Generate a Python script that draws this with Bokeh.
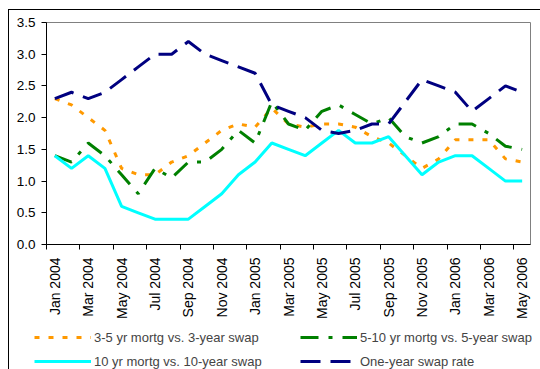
import math

from bokeh.plotting import figure
from bokeh.layouts import column
from bokeh.models import FixedTicker, Legend, LegendItem, Range1d, PrintfTickFormatter
from bokeh.embed import file_html
from bokeh.resources import INLINE

# Monthly categories, Jan 2004 .. May 2006
months = [
    "Jan 2004", "Feb 2004", "Mar 2004", "Apr 2004", "May 2004", "Jun 2004",
    "Jul 2004", "Aug 2004", "Sep 2004", "Oct 2004", "Nov 2004", "Dec 2004",
    "Jan 2005", "Feb 2005", "Mar 2005", "Apr 2005", "May 2005", "Jun 2005",
    "Jul 2005", "Aug 2005", "Sep 2005", "Oct 2005", "Nov 2005", "Dec 2005",
    "Jan 2006", "Feb 2006", "Mar 2006", "Apr 2006", "May 2006",
]

# Spreads and swap rate (percent)
mortg_3_5_vs_3y = [2.3, 2.2, 2.0, 1.8, 1.2, 1.1, 1.1, 1.3, 1.4, 1.6, 1.8, 1.9,
                   1.85, 2.15, 1.9, 1.85, 1.9, 1.9, 1.85, 1.7, 1.6, 1.4, 1.2, 1.35,
                   1.65, 1.65, 1.65, 1.35, 1.3]
mortg_5_10_vs_5y = [1.4, 1.3, 1.6, 1.4, 1.1, 0.8, 1.2, 1.05, 1.3, 1.3, 1.5, 1.8,
                    1.6, 2.25, 1.9, 1.8, 2.1, 2.2, 2.05, 1.9, 2.0, 1.7, 1.6, 1.7,
                    1.9, 1.9, 1.75, 1.55, 1.5]
mortg_10_vs_10y = [1.4, 1.2, 1.4, 1.2, 0.6, 0.5, 0.4, 0.4, 0.4, 0.6, 0.8, 1.1,
                   1.3, 1.6, 1.5, 1.4, 1.6, 1.8, 1.6, 1.6, 1.7, 1.4, 1.1, 1.3,
                   1.4, 1.4, 1.2, 1.0, 1.0]
one_year_swap = [2.3, 2.4, 2.3, 2.4, 2.6, 2.8, 3.0, 3.0, 3.2, 3.0, 2.9, 2.8,
                 2.7, 2.2, 2.1, 2.0, 1.8, 1.75, 1.8, 1.9, 1.9, 2.25, 2.6, 2.5,
                 2.4, 2.1, 2.3, 2.5, 2.4]

series_labels = ["3-5 yr mortg vs. 3-year swap", "5-10 yr mortg vs. 5-year swap",
                 "10 yr mortg vs. 10-year swap", "One-year swap rate"]
y_ticks = [0.0, 0.5, 1.0, 1.5, 2.0, 2.5, 3.0, 3.5]

FONT = "Liberation Sans"
n = len(months)
x = [i + 0.5 for i in range(n)]  # category centres

# line styles per series: colour, dash
styles = [
    dict(line_color="#FF9900", line_width=3, line_dash="5 9"),
    dict(line_color="#008000", line_width=3, line_dash="18 10 4 10"),
    dict(line_color="#00FFFF", line_width=3, line_dash="solid"),
    dict(line_color="#000080", line_width=3, line_dash="20 10"),
]
series = [mortg_3_5_vs_3y, mortg_5_10_vs_5y, mortg_10_vs_10y, one_year_swap]

# ---- main chart -----------------------------------------------------------
p = figure(width=540, height=326, output_backend="svg", toolbar_location=None,
           x_range=Range1d(0, n), y_range=Range1d(0, 3.5),
           min_border_left=46, min_border_right=10, min_border_top=22,
           min_border_bottom=82, background_fill_color="white",
           border_fill_alpha=0)
p.frame_align = False

p.xgrid.visible = False
p.ygrid.visible = False
p.outline_line_color = "#808080"
p.outline_line_width = 1

# x axis: labels on every other month, tick marks between category pairs
xa = p.xaxis[0]
xa.ticker = FixedTicker(ticks=x[::2], minor_ticks=list(range(0, n, 2)))
xa.major_label_overrides = {x[i]: months[i] for i in range(0, n, 2)}
xa.major_label_orientation = math.pi / 2
xa.major_tick_in = 0
xa.major_tick_out = 0
xa.minor_tick_in = 0
xa.minor_tick_out = 5
xa.minor_tick_line_color = "black"
xa.axis_line_color = "black"
xa.major_label_standoff = 8
xa.major_label_text_font = FONT
xa.major_label_text_font_size = "14px"
xa.major_label_text_color = "black"

ya = p.yaxis[0]
ya.ticker = FixedTicker(ticks=y_ticks)
ya.formatter = PrintfTickFormatter(format="%.1f")
ya.major_tick_in = 0
ya.major_tick_out = 5
ya.minor_tick_line_color = None
ya.major_tick_line_color = "black"
ya.axis_line_color = "black"
ya.major_label_standoff = 6
ya.major_label_text_font = FONT
ya.major_label_text_font_size = "13.5px"
ya.major_label_text_color = "black"

for vals, st in zip(series, styles):
    p.line(x, vals, **st)

# ---- legend strip under the chart ------------------------------------------
# its ranges lie away from the data, so only the legend keys show
leg = figure(width=540, height=43, output_backend="svg", toolbar_location=None,
             x_range=Range1d(100, 101), y_range=Range1d(100, 101),
             x_axis_location=None, y_axis_location=None, min_border=0,
             outline_line_color=None, background_fill_alpha=0,
             border_fill_alpha=0)
leg.frame_align = False
leg.grid.visible = False

keys = [leg.line(x, vals, **st) for vals, st in zip(series, styles)]
legend = Legend(
    items=[LegendItem(label=lab, renderers=[r])
           for lab, r in zip(series_labels, keys)],
    orientation="horizontal", ncols=2, location=(34, 0),
    padding=0, margin=0, spacing=8,
    glyph_width=57, glyph_height=16, label_standoff=3,
    label_width=198, label_height=16,
    label_text_font=FONT, label_text_font_size="13px",
    border_line_color=None, background_fill_alpha=0,
)
leg.add_layout(legend)

page = column(p, leg, spacing=0)
# white page with the chart-area frame (top and left edges)
page.styles = {
    "background": ("linear-gradient(#000, #000) 8px 9px / 1px 100% no-repeat, "
                   "linear-gradient(#000, #000) 8px 9px / 100% 1px no-repeat, #fff"),
}

open("out.html", "w").write(file_html(page, INLINE))
